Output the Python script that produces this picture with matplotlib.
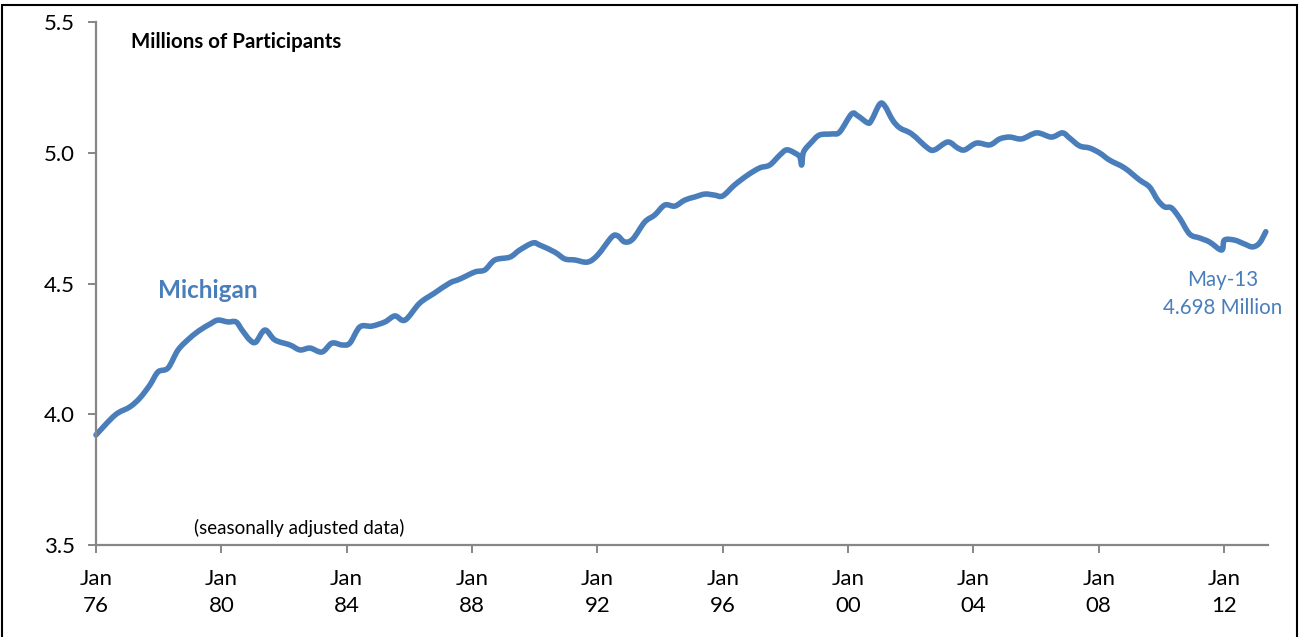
import matplotlib
matplotlib.use("Agg")
import matplotlib.pyplot as plt
from matplotlib.patches import Rectangle, PathPatch
from matplotlib.path import Path

# Data: decimal year, millions of participants
years = [1976.00, 1976.61, 1977.08, 1977.40, 1977.72, 1977.98, 1978.30, 1978.62, 1979.00, 1979.32,
         1979.64, 1979.89, 1980.21, 1980.47, 1980.66, 1980.91, 1981.10, 1981.39, 1981.71, 1982.19,
         1982.51, 1982.83, 1983.21, 1983.53, 1983.85, 1984.10, 1984.42, 1984.80, 1985.22, 1985.54,
         1985.86, 1986.33, 1986.81, 1987.29, 1987.61, 1988.09, 1988.41, 1988.73, 1989.21, 1989.52,
         1989.94, 1990.16, 1990.64, 1990.96, 1991.28, 1991.69, 1992.01, 1992.46, 1992.65, 1992.87,
         1993.13, 1993.51, 1993.83, 1994.15, 1994.47, 1994.79, 1995.11, 1995.43, 1995.74, 1996.00,
         1996.38, 1996.80, 1997.18, 1997.50, 1997.82, 1998.04, 1998.30, 1998.46, 1998.52, 1998.58,
         1998.84, 1999.09, 1999.48, 1999.73, 2000.11, 2000.31, 2000.63, 2000.75, 2001.01, 2001.17,
         2001.42, 2001.65, 2002.03, 2002.54, 2002.76, 2003.18, 2003.50, 2003.72, 2004.10, 2004.52,
         2004.84, 2005.16, 2005.54, 2006.02, 2006.49, 2006.84, 2007.07, 2007.39, 2007.71, 2008.03,
         2008.34, 2008.82, 2009.30, 2009.62, 2009.88, 2010.10, 2010.32, 2010.58, 2010.90, 2011.22,
         2011.53, 2011.92, 2012.01, 2012.33, 2012.65, 2012.91, 2013.13, 2013.33]
participants = [3.921, 3.997, 4.028, 4.062, 4.112, 4.162, 4.177, 4.246, 4.292, 4.322,
                4.345, 4.360, 4.353, 4.353, 4.322, 4.284, 4.276, 4.322, 4.284, 4.265,
                4.246, 4.253, 4.238, 4.272, 4.265, 4.272, 4.334, 4.337, 4.353, 4.376,
                4.360, 4.425, 4.464, 4.502, 4.517, 4.544, 4.552, 4.590, 4.601, 4.628,
                4.655, 4.647, 4.620, 4.594, 4.590, 4.582, 4.609, 4.678, 4.682, 4.659,
                4.670, 4.735, 4.762, 4.800, 4.796, 4.819, 4.831, 4.842, 4.838, 4.835,
                4.877, 4.915, 4.942, 4.953, 4.991, 5.011, 4.999, 4.984, 4.953, 5.003,
                5.041, 5.068, 5.072, 5.079, 5.148, 5.141, 5.114, 5.125, 5.186, 5.179,
                5.125, 5.095, 5.072, 5.018, 5.011, 5.041, 5.018, 5.011, 5.037, 5.030,
                5.053, 5.060, 5.053, 5.076, 5.060, 5.076, 5.056, 5.026, 5.018, 4.999,
                4.972, 4.942, 4.896, 4.869, 4.819, 4.793, 4.789, 4.750, 4.689, 4.674,
                4.659, 4.628, 4.666, 4.666, 4.651, 4.640, 4.655, 4.698]

tick_years = [1976, 1980, 1984, 1988, 1992, 1996, 2000, 2004, 2008, 2012]
tick_labels = ["Jan\n76", "Jan\n80", "Jan\n84", "Jan\n88", "Jan\n92",
               "Jan\n96", "Jan\n00", "Jan\n04", "Jan\n08", "Jan\n12"]
y_ticks = [3.5, 4.0, 4.5, 5.0, 5.5]

BLUE = "#4A7EBB"
GRAY = "#868686"
FONT = ["Lato", "DejaVu Sans"]

fig = plt.figure(figsize=(13.01, 6.37), dpi=100)
ax = fig.add_axes([96/1301, 92/637, 1172/1301, 523/637])

ax.set_xlim(1976.0, 2013.4)
ax.set_ylim(3.5, 5.5)

# smoothed line (like a spreadsheet "smoothed line"): cubic Bezier segments
# through the data points, Catmull-Rom style control points, in data coordinates
n = len(years)
verts = [(years[0], participants[0])]
codes = [Path.MOVETO]
t = 1.0 / 6.0
for i in range(n - 1):
    x0, y0 = years[max(i - 1, 0)], participants[max(i - 1, 0)]
    x1, y1 = years[i], participants[i]
    x2, y2 = years[i + 1], participants[i + 1]
    x3, y3 = years[min(i + 2, n - 1)], participants[min(i + 2, n - 1)]
    c1 = (x1 + (x2 - x0) * t, y1 + (y2 - y0) * t)
    c2 = (x2 - (x3 - x1) * t, y2 - (y3 - y1) * t)
    verts += [c1, c2, (x2, y2)]
    codes += [Path.CURVE4, Path.CURVE4, Path.CURVE4]
ax.add_patch(PathPatch(Path(verts, codes), transform=ax.transData, facecolor="none",
                       edgecolor=BLUE, lw=4.0, joinstyle="round", capstyle="round",
                       clip_on=False))

ax.set_yticks(y_ticks)
ax.set_yticklabels(["%.1f" % v for v in y_ticks], fontsize=16, family=FONT)
ax.set_xticks(tick_years)
ax.set_xticklabels(tick_labels, fontsize=16, family=FONT, linespacing=1.4)

for s in ["top", "right"]:
    ax.spines[s].set_visible(False)
for s in ["left", "bottom"]:
    ax.spines[s].set_color(GRAY)
    ax.spines[s].set_linewidth(1.6)
ax.tick_params(axis="y", direction="out", length=6, width=1.4, color=GRAY, pad=9)
ax.tick_params(axis="x", direction="out", length=6, width=1.4, color=GRAY, pad=11.5)

ax.text(0.03, 0.962, "Millions of Participants", transform=ax.transAxes,
        fontsize=14.8, fontweight="bold", family=FONT, va="center", ha="left")
ax.text(0.084, 0.032, "(seasonally adjusted data)", transform=ax.transAxes,
        fontsize=13.5, family=FONT, va="center", ha="left")
ax.text(0.0525, 0.486, "Michigan", transform=ax.transAxes,
        fontsize=17.5, fontweight="bold", family=FONT, color=BLUE, va="center", ha="left")
ax.text(0.961, 0.48, "May-13\n4.698 Million", transform=ax.transAxes,
        fontsize=14.8, family=FONT, color=BLUE, va="center", ha="center", linespacing=1.5)

# outer frame of the original graphic
fig.add_artist(Rectangle((2/1301, -0.1), 1295/1301, 1.1 - 5/637, transform=fig.transFigure,
                         fill=False, edgecolor="black", lw=1.5))

fig.savefig("out.png", dpi=100)
